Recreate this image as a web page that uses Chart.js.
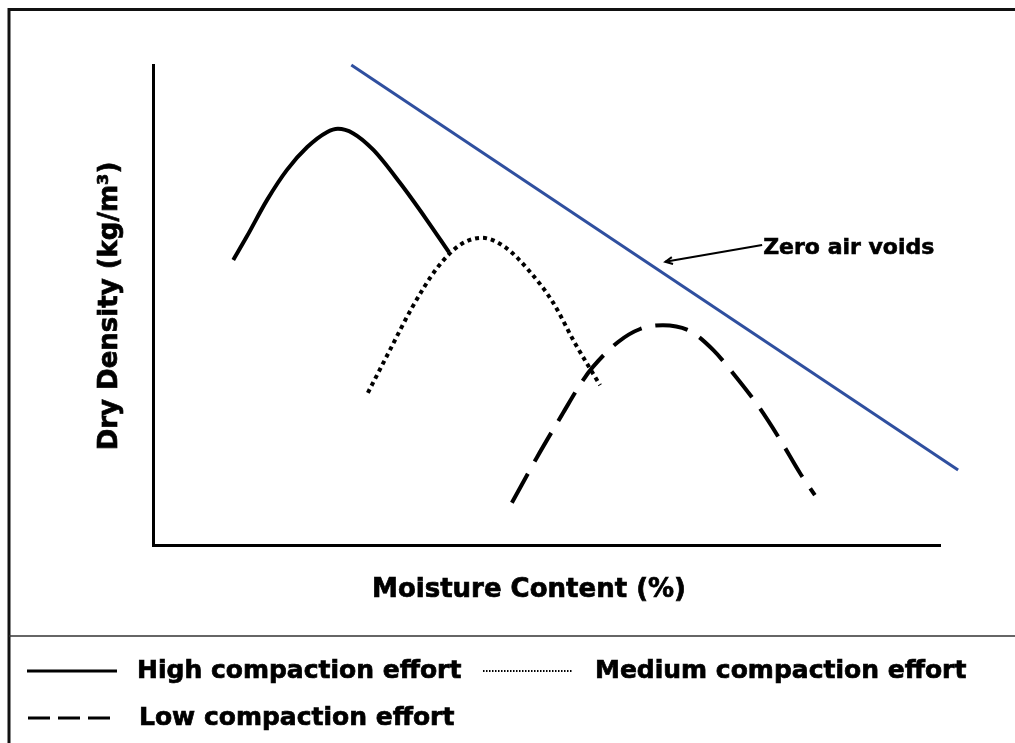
<!DOCTYPE html>
<html>
<head>
<meta charset="utf-8">
<script src="https://cdn.jsdelivr.net/npm/chart.js@4/dist/chart.umd.min.js"></script>
<style>
body { margin: 0; background: #fff; }
#wrap { width: 1015px; height: 743px; }
</style>
</head>
<body>
<div id="wrap"><canvas id="compaction-chart"></canvas></div>
<script>
// moisture content (x) and dry density (y), arbitrary units 0-100
var high_x = [10.2, 11.9, 14.5, 17.0, 19.6, 22.1, 23.5, 25.4, 28.0, 31.4, 34.8, 37.6];
var high_y = [59.4, 64.2, 71.9, 78.1, 82.9, 86.0, 86.7, 85.8, 82.3, 75.4, 67.7, 61.0];

var med_x = [27.3, 30.1, 32.9, 36.1, 39.0, 41.8, 44.7, 47.7, 50.8, 53.6, 56.8];
var med_y = [31.7, 40.6, 49.4, 57.7, 62.5, 64.0, 62.1, 57.3, 50.6, 42.1, 33.3];

var low_x = [45.6, 48.8, 52.1, 54.5, 55.9, 59.1, 61.9, 64.8, 68.2, 71.2, 73.7, 76.8, 79.7, 82.2, 84.1];
var low_y = [8.8, 18.3, 27.5, 34.0, 37.1, 42.3, 45.0, 45.8, 44.6, 40.6, 35.8, 29.2, 21.9, 15.0, 10.4];

var zav_x = [25.2, 102.3];
var zav_y = [100, 15.6];

// arrow for the "Zero air voids" note: [tip, tail]
var note_x = [65.1, 77.4];
var note_y = [59.0, 62.5];

var labels = ["High compaction effort", "Medium compaction effort", "Low compaction effort"];
var xTitle = "Moisture Content (%)";
var yTitle = "Dry Density (kg/m\u00b3)";
var noteText = "Zero air voids";

function pts(xs, ys) {
	var out = [];
	for (let i = 0; i < xs.length; i++) out.push({x: xs[i], y: ys[i]});
	return out;
}

var FONT = '"DejaVu Sans", Verdana, sans-serif';

// bold text, a bit heavier
function txt(ctx, s, x, y) {
	ctx.fillText(s, x, y);
	ctx.strokeText(s, x, y);
}

var extras = {
	id: 'extras',
	afterDraw: function (chart) {
		var ctx = chart.ctx;
		var sx = chart.scales.x, sy = chart.scales.y;
		ctx.save();

		// frame
		ctx.strokeStyle = '#111';
		ctx.lineWidth = 3;
		ctx.beginPath();
		ctx.moveTo(1015, 9.5);
		ctx.lineTo(9, 9.5);
		ctx.lineTo(9, 743);
		ctx.stroke();
		ctx.lineWidth = 1.5;
		ctx.strokeStyle = '#333';
		ctx.beginPath();
		ctx.moveTo(9, 636);
		ctx.lineTo(1015, 636);
		ctx.stroke();

		// axis titles
		ctx.fillStyle = '#000';
		ctx.strokeStyle = '#000';
		ctx.lineWidth = 0.7;
		ctx.font = 'bold 26px ' + FONT;
		ctx.textAlign = 'center';
		ctx.textBaseline = 'middle';
		txt(ctx, xTitle, 529, 590);
		ctx.save();
		ctx.translate(110, 306);
		ctx.rotate(-Math.PI / 2);
		txt(ctx, yTitle, 0, 0);
		ctx.restore();

		// note + arrow
		var tipX = sx.getPixelForValue(note_x[0]), tipY = sy.getPixelForValue(note_y[0]);
		var tailX = sx.getPixelForValue(note_x[1]), tailY = sy.getPixelForValue(note_y[1]);
		ctx.lineWidth = 2;
		ctx.beginPath();
		ctx.moveTo(tailX, tailY);
		ctx.lineTo(tipX, tipY);
		ctx.stroke();
		var a = Math.atan2(tipY - tailY, tipX - tailX);
		ctx.beginPath();
		ctx.moveTo(tipX - 8 * Math.cos(a - 0.45), tipY - 8 * Math.sin(a - 0.45));
		ctx.lineTo(tipX, tipY);
		ctx.lineTo(tipX - 8 * Math.cos(a + 0.45), tipY - 8 * Math.sin(a + 0.45));
		ctx.stroke();
		ctx.lineWidth = 0.6;
		ctx.font = 'bold 22px ' + FONT;
		ctx.textAlign = 'left';
		txt(ctx, noteText, tailX + 1, tailY + 3);

		// legend
		ctx.font = 'bold 25px ' + FONT;
		ctx.lineWidth = 0.7;
		txt(ctx, labels[0], 137, 671);
		txt(ctx, labels[1], 595, 671);
		txt(ctx, labels[2], 139, 718);
		ctx.lineCap = 'butt';
		ctx.lineWidth = 3;
		ctx.setLineDash([]);
		ctx.beginPath(); ctx.moveTo(27, 671); ctx.lineTo(117, 671); ctx.stroke();
		ctx.lineWidth = 2;
		ctx.setLineDash([1.5, 1.5]);
		ctx.beginPath(); ctx.moveTo(483, 671); ctx.lineTo(572, 671); ctx.stroke();
		ctx.lineWidth = 3;
		ctx.setLineDash([22, 8]);
		ctx.beginPath(); ctx.moveTo(28, 718); ctx.lineTo(110, 718); ctx.stroke();

		ctx.restore();
	}
};

var myChart = new Chart(document.getElementById("compaction-chart"), {
	type: "line",
	data: {
		datasets: [{
			label: labels[0],
			data: pts(high_x, high_y),
			borderColor: '#000',
			borderWidth: 4,
			pointRadius: 0,
			cubicInterpolationMode: 'monotone',
			fill: false
		}, {
			label: labels[1],
			data: pts(med_x, med_y),
			borderColor: '#000',
			borderWidth: 4,
			borderDash: [4, 4],
			pointRadius: 0,
			cubicInterpolationMode: 'monotone',
			fill: false
		}, {
			label: labels[2],
			data: pts(low_x, low_y),
			borderColor: '#000',
			borderWidth: 4,
			borderDash: [33, 14],
			pointRadius: 0,
			cubicInterpolationMode: 'monotone',
			fill: false
		}, {
			label: noteText,
			data: pts(zav_x, zav_y),
			borderColor: '#2f4f9f',
			borderWidth: 3,
			pointRadius: 0,
			clip: false,
			fill: false
		}]
	},
	options: {
		responsive: true,
		maintainAspectRatio: false,
		animation: false,
		layout: { padding: { left: 145, right: 75, top: 65, bottom: 190 } },
		plugins: {
			legend: { display: false },
			tooltip: { enabled: false }
		},
		scales: {
			x: {
				type: 'linear', min: 0, max: 100,
				grid: { display: false },
				ticks: { display: false },
				border: { display: true, color: '#000', width: 3 }
			},
			y: {
				type: 'linear', min: 0, max: 100,
				grid: { display: false },
				ticks: { display: false },
				border: { display: true, color: '#000', width: 3 }
			}
		}
	},
	plugins: [extras]
});
</script>
</body>
</html>
